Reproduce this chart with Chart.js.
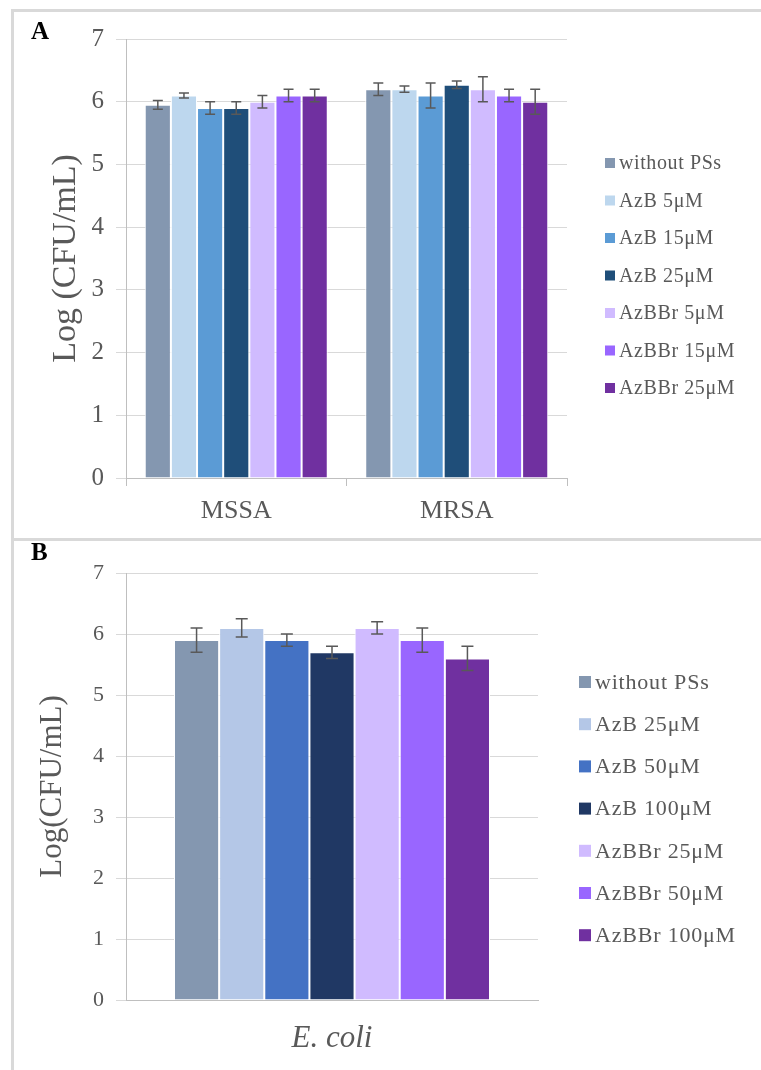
<!DOCTYPE html>
<html>
<head>
<meta charset="utf-8">
<script src="https://cdn.jsdelivr.net/npm/chart.js@4.4.1/dist/chart.umd.min.js"></script>
<style>
  body { margin: 0; background: #fff; }
  #page { position: relative; width: 761px; height: 1070px; overflow: hidden; }
  canvas { position: absolute; left: 0; }
  .line { position: absolute; background: #d9d9d9; }
  .tag { position: absolute; font: bold 25px "Liberation Serif", serif; color: #000; }
</style>
</head>
<body>
<div id="page">
  <div class="line" style="left:11px; top:9px; width:750px; height:3px;"></div>
  <div class="line" style="left:11px; top:9px; width:3px; height:1061px;"></div>
  <div class="line" style="left:11px; top:538px; width:750px; height:3px;"></div>
  <canvas id="chartA" width="761" height="538" style="top:0"></canvas>
  <canvas id="chartB" width="761" height="532" style="top:538px"></canvas>
  <div class="tag" style="left:31px; top:17px;">A</div>
  <div class="tag" style="left:31px; top:538px;">B</div>
</div>
<script>
// panel A: S. aureus strains
var categoriesA = ["MSSA", "MRSA"];
var seriesA = ["without PSs", "AzB 5\u03bcM", "AzB 15\u03bcM", "AzB 25\u03bcM", "AzBBr 5\u03bcM", "AzBBr 15\u03bcM", "AzBBr 25\u03bcM"];
var valuesA = [
    [5.95, 6.2],
    [6.1, 6.2],
    [5.9, 6.1],
    [5.9, 6.27],
    [6.0, 6.2],
    [6.1, 6.1],
    [6.1, 6.0]
];
var errorsA = [
    [0.07, 0.1],
    [0.04, 0.05],
    [0.1, 0.2],
    [0.1, 0.06],
    [0.1, 0.2],
    [0.1, 0.1],
    [0.1, 0.2]
];
var colorsA = ["#8497b0", "#bdd7ee", "#5b9bd5", "#1f4e79", "#d0bbff", "#9966ff", "#7030a0"];

// panel B: E. coli
var categoriesB = ["E. coli"];
var seriesB = ["without PSs", "AzB 25\u03bcM", "AzB 50\u03bcM", "AzB 100\u03bcM", "AzBBr 25\u03bcM", "AzBBr 50\u03bcM", "AzBBr 100\u03bcM"];
var valuesB = [5.9, 6.1, 5.9, 5.7, 6.1, 5.9, 5.6];
var errorsB = [0.2, 0.15, 0.1, 0.1, 0.1, 0.2, 0.2];
var colorsB = ["#8497b0", "#b4c7e7", "#4472c4", "#203864", "#d0bbff", "#9966ff", "#7030a0"];

var yTicks = [0, 1, 2, 3, 4, 5, 6, 7];

var serif = "'Liberation Serif', 'Times New Roman', serif";
var grey = "#595959";

// error bars drawn from the bar elements and the y scale
var errorBars = {
    id: "errorBars",
    afterDatasetsDraw: function(chart, args, opts) {
        var ctx = chart.ctx, y = chart.scales.y;
        ctx.save();
        ctx.strokeStyle = grey;
        ctx.lineWidth = 1.5;
        chart.data.datasets.forEach(function(ds, i) {
            chart.getDatasetMeta(i).data.forEach(function(bar, j) {
                var v = ds.data[j], e = ds.errors[j];
                var top = y.getPixelForValue(v + e), bot = y.getPixelForValue(v - e);
                ctx.beginPath();
                ctx.moveTo(bar.x, top); ctx.lineTo(bar.x, bot);
                ctx.moveTo(bar.x - opts.cap, top); ctx.lineTo(bar.x + opts.cap, top);
                ctx.moveTo(bar.x - opts.cap, bot); ctx.lineTo(bar.x + opts.cap, bot);
                ctx.stroke();
            });
        });
        ctx.restore();
    }
};

// Excel-style legend on the right
var sideLegend = {
    id: "sideLegend",
    afterDraw: function(chart, args, opts) {
        var ctx = chart.ctx;
        ctx.save();
        ctx.font = opts.size + "px " + serif;
        ctx.textBaseline = "middle";
        if ("letterSpacing" in ctx) ctx.letterSpacing = opts.spacing + "px";
        chart.data.datasets.forEach(function(ds, i) {
            var cy = opts.y + i * opts.step;
            ctx.fillStyle = ds.backgroundColor;
            ctx.fillRect(opts.x, cy - opts.box / 2, opts.box, opts.box);
            ctx.fillStyle = grey;
            ctx.fillText(ds.label, opts.x + opts.box + 4, cy + 1);
        });
        ctx.restore();
    }
};

function makeChart(id, cfg) {
    var datasets = cfg.series.map(function(name, i) {
        return {
            label: name,
            data: cfg.values[i],
            errors: cfg.errors[i],
            backgroundColor: cfg.colors[i],
            borderColor: "#ffffff",
            borderWidth: 1,
            borderSkipped: "bottom",
            barPercentage: 1,
            categoryPercentage: cfg.catPct
        };
    });
    return new Chart(id, {
        type: "bar",
        data: { labels: cfg.categories, datasets: datasets },
        options: {
            responsive: false,
            animation: false,
            layout: { padding: cfg.padding },
            plugins: {
                legend: { display: false },
                tooltip: { enabled: false },
                errorBars: { cap: cfg.cap },
                sideLegend: cfg.legend
            },
            scales: {
                x: {
                    afterFit: function(s) { s.height = cfg.xHeight; },
                    grid: { drawOnChartArea: false, drawTicks: cfg.xTicks, tickLength: 8, color: "#bfbfbf", offset: true },
                    border: { color: "#bfbfbf" },
                    ticks: { color: grey, padding: cfg.xPad, font: cfg.xFont }
                },
                y: {
                    min: 0,
                    max: 7,
                    afterFit: function(s) { s.width = 126; },
                    afterBuildTicks: function(s) { s.ticks = yTicks.map(function(v) { return { value: v }; }); },
                    grid: { color: "#d9d9d9", tickLength: 10 },
                    border: { color: "#bfbfbf" },
                    ticks: { color: grey, padding: 12, font: { family: serif, size: cfg.yTickSize } },
                    title: {
                        display: true,
                        text: cfg.yTitle,
                        color: grey,
                        font: { family: serif, size: cfg.yTitleSize },
                        padding: { top: cfg.yTitlePad, bottom: 0 }
                    }
                }
            }
        },
        plugins: [errorBars, sideLegend]
    });
}

makeChart("chartA", {
    categories: categoriesA,
    series: seriesA,
    values: valuesA,
    errors: errorsA,
    colors: colorsA,
    catPct: 0.83,
    padding: { left: 0, top: 39, right: 194, bottom: 0 },
    xHeight: 60,
    xTicks: true,
    xPad: 10,
    xFont: { family: serif, size: 26 },
    yTickSize: 25,
    yTitle: "Log (CFU/mL)",
    yTitleSize: 34,
    yTitlePad: 46,
    cap: 5,
    legend: { x: 605, y: 163, step: 37.5, box: 10, size: 20, spacing: 0.6 }
});

makeChart("chartB", {
    categories: categoriesB,
    series: seriesB,
    values: valuesB.map(function(v) { return [v]; }),
    errors: errorsB.map(function(v) { return [v]; }),
    colors: colorsB,
    catPct: 0.767,
    padding: { left: 0, top: 35, right: 223, bottom: 0 },
    xHeight: 70,
    xTicks: false,
    xPad: 20,
    xFont: { family: serif, size: 31, style: "italic" },
    yTickSize: 22,
    yTitle: "Log(CFU/mL)",
    yTitleSize: 31,
    yTitlePad: 34,
    cap: 6,
    legend: { x: 579, y: 144, step: 42.2, box: 12, size: 22, spacing: 0.8 }
});
</script>
</body>
</html>
